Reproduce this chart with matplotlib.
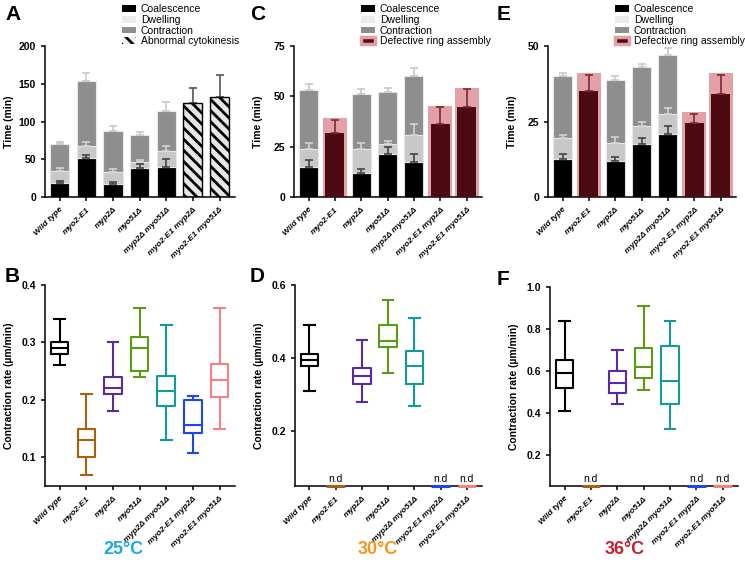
import numpy as np
import matplotlib
matplotlib.use('Agg')
import matplotlib.pyplot as plt
from matplotlib.patches import Patch

plt.rcParams['font.family'] = ['Liberation Sans', 'DejaVu Sans']
plt.rcParams['hatch.linewidth'] = 2.0
plt.rcParams['axes.linewidth'] = 1.1

strains = ['Wild type', 'myo2-E1', 'myp2Δ', 'myo51Δ', 'myp2Δ myo51Δ',
           'myo2-E1 myp2Δ', 'myo2-E1 myo51Δ']
temps = ['25°C', '30°C', '36°C']
temp_colors = ['#1aa9e6', '#f7941d', '#c8202f']
box_colors = ['#000000', '#a8600c', '#5a2aa0', '#5a9a14', '#159a9a', '#1e46f0', '#f58282']

# ---- time bars (min) ----
pos_25 = [0, 1, 2, 3, 4]
coal_25 = [19, 51, 17, 39, 40]
coal_err_25 = [2, 5, 3, 5, 10]
dwell_25 = [16, 16, 16, 7, 21]
dwell_err_25 = [3, 6, 4, 3, 7]
contr_25 = [35, 87, 54, 36, 53]
contr_err_25 = [3, 10, 7, 4, 12]
abnormal_pos_25 = [5, 6]
abnormal_25 = [125, 133]
abnormal_err_25 = [20, 29]

pos_30 = [0, 2, 3, 4]
coal_30 = [15, 12, 21.5, 17.5]
coal_err_30 = [3.5, 2, 3.5, 4]
dwell_30 = [9, 12, 5, 13.5]
dwell_err_30 = [3, 3, 1.5, 5.5]
contr_30 = [29, 27, 25.5, 29]
contr_err_30 = [3, 2.5, 2, 4]
defect_pos_30 = [1, 5, 6]
defect_total_30 = [39, 45, 54]
defect_ring_30 = [32, 36.5, 44.5]
defect_err_30 = [6, 8, 9]

pos_36 = [0, 2, 3, 4]
coal_36 = [12.5, 12, 17.5, 21]
coal_err_36 = [1.8, 1.2, 2.2, 2.5]
dwell_36 = [7, 6, 6, 6.5]
dwell_err_36 = [1, 2, 1.2, 2]
contr_36 = [20.5, 20.7, 19.5, 19.5]
contr_err_36 = [1, 1.3, 1.2, 2.5]
defect_pos_36 = [1, 5, 6]
defect_total_36 = [41, 28, 41]
defect_ring_36 = [35, 24.5, 34]
defect_err_36 = [5.5, 3, 6.5]

# ---- contraction rate boxes (um/min): whislo, q1, med, q3, whishi ----
rate_pos_25 = [0, 1, 2, 3, 4, 5, 6]
rate_25 = [[0.26, 0.28, 0.29, 0.30, 0.34],
           [0.07, 0.10, 0.13, 0.15, 0.21],
           [0.18, 0.21, 0.22, 0.24, 0.30],
           [0.24, 0.25, 0.29, 0.31, 0.36],
           [0.13, 0.19, 0.216, 0.241, 0.33],
           [0.107, 0.142, 0.157, 0.199, 0.207],
           [0.15, 0.205, 0.235, 0.262, 0.36]]
rate_pos_30 = [0, 2, 3, 4]
rate_30 = [[0.31, 0.377, 0.394, 0.41, 0.49],
           [0.28, 0.33, 0.352, 0.372, 0.45],
           [0.36, 0.43, 0.446, 0.49, 0.56],
           [0.27, 0.328, 0.377, 0.42, 0.51]]
rate_pos_36 = [0, 2, 3, 4]
rate_36 = [[0.41, 0.52, 0.59, 0.65, 0.84],
           [0.44, 0.496, 0.54, 0.60, 0.70],
           [0.51, 0.566, 0.62, 0.71, 0.91],
           [0.32, 0.44, 0.55, 0.72, 0.84]]
nd_pos = [1, 5, 6]

W, H = 745, 571
fig = plt.figure(figsize=(7.45, 5.71), dpi=100)


def px_axes(left, right, top, bottom):
    return fig.add_axes([left / W, 1 - bottom / H, (right - left) / W, (bottom - top) / H])


def style(ax, label):
    ax.spines['top'].set_visible(False)
    ax.spines['right'].set_visible(False)
    ax.tick_params(direction='out', length=3, width=1.1, labelsize=7.5)
    for t in ax.get_yticklabels():
        t.set_fontweight('bold')
    ax.set_xlim(-0.55, 6.58)
    ax.set_xticks(range(7))
    ax.set_xticklabels(strains, rotation=45, ha='right', rotation_mode='anchor',
                       fontsize=6, fontstyle='italic', fontweight='bold')
    ax.set_ylabel(label, fontsize=7.5, fontweight='bold')
    ax.yaxis.set_label_coords(-0.165, 0.5)


c_coal, c_dwell, c_contr = '#000000', '#c8c8c8', '#8e8e8e'
pink, darkred = '#e3a0a6', '#4c0b12'
bw = 0.72


def stacked(ax, pos, coal, ce, dwell, de, contr, cte):
    coal, dwell, contr = map(np.array, (coal, dwell, contr))
    ax.bar(pos, coal, bw, color=c_coal, edgecolor='#dddddd', linewidth=0.8, zorder=2)
    ax.bar(pos, dwell, bw, bottom=coal, color=c_dwell, edgecolor='#e8e8e8', linewidth=0.8, zorder=2)
    ax.bar(pos, contr, bw, bottom=coal + dwell, color=c_contr, edgecolor='#e8e8e8', linewidth=0.8, zorder=2)
    kw = dict(fmt='none', capsize=3, elinewidth=1.2, capthick=1.2, zorder=3)
    ax.errorbar(pos, coal, yerr=[np.zeros(len(pos)), ce], ecolor='#444444', **kw)
    ax.errorbar(pos, coal + dwell, yerr=[np.zeros(len(pos)), de], ecolor='#d4d4d4', **kw)
    ax.errorbar(pos, coal + dwell + contr, yerr=[np.zeros(len(pos)), cte], ecolor='#c8c8c8', **kw)


def defective(ax, pos, total, ring, err):
    ax.bar(pos, total, 0.92, color=pink, zorder=2)
    ax.bar(pos, ring, bw, color=darkred, zorder=3)
    ax.errorbar(pos, ring, yerr=[np.zeros(len(pos)), err], fmt='none', ecolor='#7a2a32',
                capsize=3, elinewidth=1.2, capthick=1.2, zorder=4)


# A
axA = px_axes(45, 235, 46, 197)
stacked(axA, pos_25, coal_25, coal_err_25, dwell_25, dwell_err_25, contr_25, contr_err_25)
axA.bar(abnormal_pos_25, abnormal_25, bw, color='#e6e6e6', edgecolor='black', hatch='\\\\\\',
        linewidth=1, zorder=2)
axA.errorbar(abnormal_pos_25, abnormal_25, yerr=[[0, 0], abnormal_err_25], fmt='none',
             ecolor='#555555', capsize=3, elinewidth=1.2, capthick=1.2, zorder=1)
axA.set_ylim(0, 200)
axA.set_yticks([0, 50, 100, 150, 200])
style(axA, 'Time (min)')

# C
axC = px_axes(294, 482, 46, 197)
stacked(axC, pos_30, coal_30, coal_err_30, dwell_30, dwell_err_30, contr_30, contr_err_30)
defective(axC, defect_pos_30, defect_total_30, defect_ring_30, defect_err_30)
axC.set_ylim(0, 75)
axC.set_yticks([0, 25, 50, 75])
style(axC, 'Time (min)')

# E
axE = px_axes(548, 736, 46, 197)
stacked(axE, pos_36, coal_36, coal_err_36, dwell_36, dwell_err_36, contr_36, contr_err_36)
defective(axE, defect_pos_36, defect_total_36, defect_ring_36, defect_err_36)
axE.set_ylim(0, 50)
axE.set_yticks([0, 25, 50])
style(axE, 'Time (min)')

# legends
base_handles = [Patch(facecolor='black', label='Coalescence'),
                Patch(facecolor='#ebebeb', label='Dwelling'),
                Patch(facecolor='#8e8e8e', label='Contraction')]
leg_kw = dict(loc='upper left', frameon=False, fontsize=7.5, handlelength=1.3,
              handleheight=0.65, labelspacing=0.08, borderpad=0, handletextpad=0.5,
              borderaxespad=0)
fig.legend(handles=base_handles + [Patch(facecolor='#f2f2f2', edgecolor='black', linewidth=0,
                                         hatch='\\\\\\', label='Abnormal cytokinesis')],
           bbox_to_anchor=(122 / W, 1 - 4 / H), **leg_kw)
for x0 in (361, 615):
    fig.legend(handles=base_handles + [Patch(facecolor=darkred, edgecolor=pink, linewidth=2.5,
                                             label='Defective ring assembly')],
               bbox_to_anchor=(x0 / W, 1 - 4 / H), **leg_kw)


def boxes(ax, pos, stats_list):
    stats = [dict(whislo=s[0], q1=s[1], med=s[2], q3=s[3], whishi=s[4]) for s in stats_list]
    for p, st in zip(pos, stats):
        c = box_colors[p]
        ax.bxp([st], positions=[p], widths=0.66, showfliers=False,
               boxprops=dict(color=c, linewidth=1.5),
               medianprops=dict(color=c, linewidth=1.5),
               whiskerprops=dict(color=c, linewidth=1.5),
               capprops=dict(color=c, linewidth=1.5),
               capwidths=0.4)


def nd_marks(ax, ymin):
    span = ax.get_ylim()[1] - ax.get_ylim()[0]
    for p in nd_pos:
        ax.plot([p - 0.35, p + 0.35], [ymin, ymin], color=box_colors[p], linewidth=2.2,
                clip_on=False, zorder=5, solid_capstyle='butt')
        ax.text(p, ymin + 0.012 * span, 'n.d', ha='center', va='bottom', fontsize=7.5)


# B
axB = px_axes(45, 235, 285, 486)
boxes(axB, rate_pos_25, rate_25)
axB.set_ylim(0.05, 0.4)
axB.set_yticks([0.1, 0.2, 0.3, 0.4])
style(axB, 'Contraction rate (µm/min)')

# D
axD = px_axes(295, 482, 285, 486)
boxes(axD, rate_pos_30, rate_30)
axD.set_ylim(0.05, 0.6)
axD.set_yticks([0.2, 0.4, 0.6])
style(axD, 'Contraction rate (µm/min)')
nd_marks(axD, 0.05)

# F
axF = px_axes(550, 738, 287, 486)
boxes(axF, rate_pos_36, rate_36)
axF.set_ylim(0.05, 1.0)
axF.set_yticks([0.2, 0.4, 0.6, 0.8, 1.0])
style(axF, 'Contraction rate (µm/min)')
nd_marks(axF, 0.05)

for ax in (axB, axD, axF):
    ax.yaxis.set_major_formatter(matplotlib.ticker.FormatStrFormatter('%.1f'))
    for t in ax.get_yticklabels():
        t.set_fontweight('bold')

# panel letters
for letter, x, y in [('A', 5, 15), ('B', 5, 276), ('C', 250, 15), ('D', 250, 276),
                     ('E', 497, 15), ('F', 497, 279)]:
    fig.text(x / W, 1 - y / H, letter, fontsize=15, fontweight='bold', va='center')

for t, c, x in zip(temps, temp_colors, [123, 378, 625]):
    fig.text(x / W, 1 - 549 / H, t, color=c, fontsize=13, fontweight='bold',
             ha='center', va='center')

fig.savefig('out.png', dpi=100)
